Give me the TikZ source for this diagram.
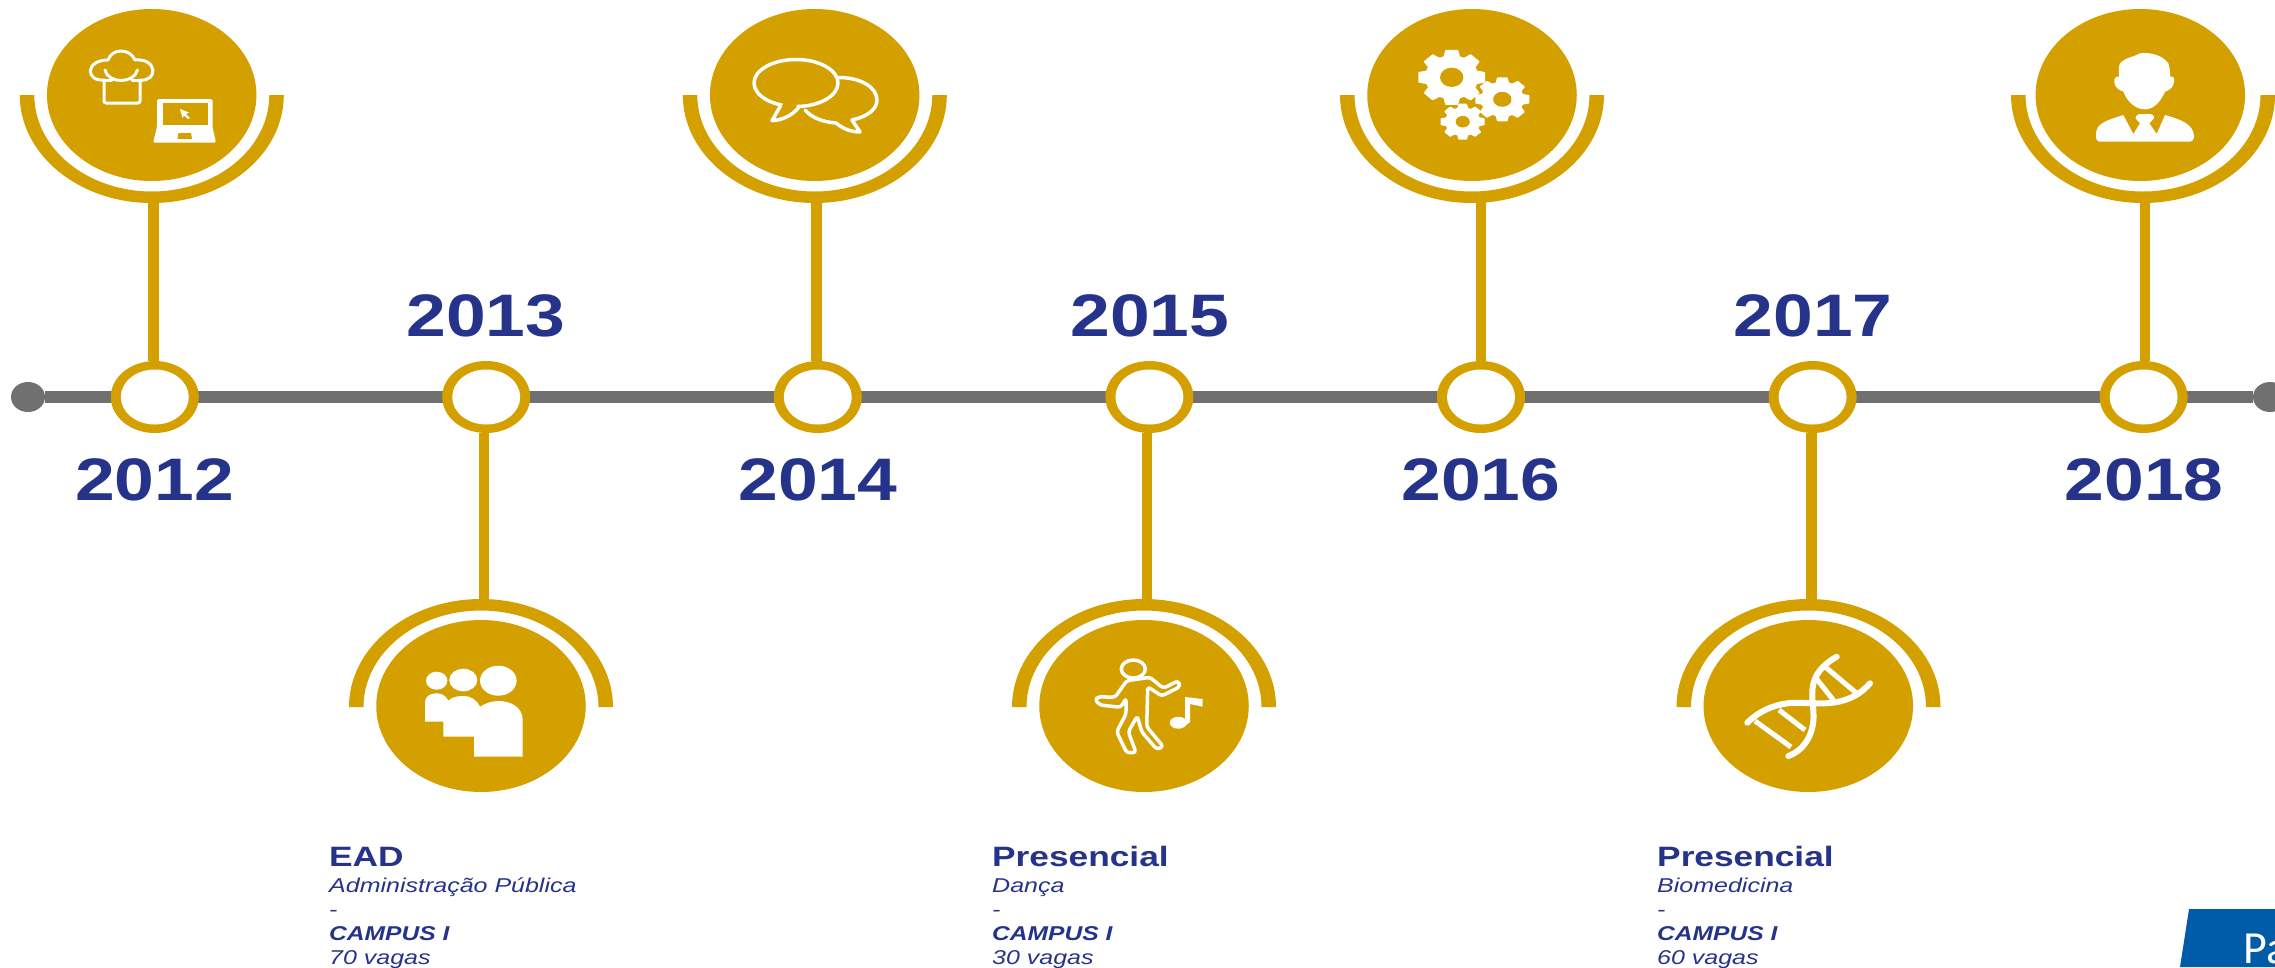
\documentclass[tikz,border=0pt]{standalone}
\usepackage{graphicx}
\usepackage{fontspec}
\setmainfont{Liberation Sans}
\newfontfamily\boxfont{Carlito}
\usetikzlibrary{shapes.geometric}
\definecolor{gold}{HTML}{D3A000}
\definecolor{navy}{HTML}{26338A}
\definecolor{axisgray}{HTML}{707070}
\definecolor{boxblue}{HTML}{005CA8}
\newcommand{\wide}[2][1.19]{\scalebox{#1}[1]{#2}}
\newcommand{\yearlabel}[3]{\node[yeartext] (#1) at (#2,#3) {\wide{2\kern0pt #1}};}
\newcommand{\infoblock}[5]{%
  \node[infoline,font=\bfseries\fontsize{28}{30}\selectfont] (#1a) at (#2,866) {\wide[1.26]{#3}};
  \node[infoline,font=\itshape\fontsize{20}{22}\selectfont] (#1b) at (#2,892) {\wide[1.25]{#4}};
  \node[infoline,font=\itshape\fontsize{20}{22}\selectfont] (#1c) at (#2,916) {\wide[1.25]{-}};
  \node[infoline,font=\bfseries\itshape\fontsize{20}{22}\selectfont] (#1d) at (#2,940) {\wide[1.23]{CAMPUS I}};
  \node[infoline,font=\itshape\fontsize{20}{22}\selectfont] (#1e) at (#2,964) {\wide[1.25]{#5}};
}
% semi-ellipse "cup": centre x, flat y, outer ry, end angle
\newcommand{\cupshape}[4]{%
  \fill[gold] (#1-132,#2) arc[start angle=180,end angle=#4,x radius=132,y radius=#3]
     -- (#1+117.5,#2) arc[start angle=#4,end angle=180,x radius=117.5,y radius=#3-11.5] -- cycle;
}
\newcommand{\gearicon}[5]{%
  \begin{scope}[shift={(#1,#2)},xscale=#3,yscale=#4]
    \fill[white] (0,0) ellipse[x radius=.8,y radius=.8];
    \foreach \a in {0,45,...,315}
      \fill[white,rotate=\a,rounded corners=.5pt] (.7,-.26)--(1,-.19)--(1,.19)--(.7,.26)--cycle;
    \fill[gold] (0,0) ellipse[x radius=#5,y radius=#5];
  \end{scope}
}
\tikzset{
  x=1pt,y=-1pt,
  iconbody/.style={ellipse,fill=gold,draw=none,inner sep=0pt,minimum width=209.5pt,minimum height=172pt},
  ringouter/.style={ellipse,fill=gold,draw=none,inner sep=0pt,minimum width=88pt,minimum height=72pt},
  ringinner/.style={ellipse,fill=white,draw=none,inner sep=0pt,minimum width=68pt,minimum height=55pt},
  enddot/.style={ellipse,fill=axisgray,draw=none,inner sep=0pt,minimum width=34pt,minimum height=30pt},
  axisline/.style={draw=axisgray,line width=12pt},
  stem/.style={draw=gold,line width=10.5pt},
  yeartext/.style={anchor=base,text=navy,inner sep=0pt,font=\bfseries\fontsize{60}{60}\selectfont},
  infoline/.style={anchor=base west,text=navy,inner sep=0pt},
  iconline/.style={draw=white,line width=3pt,line join=round,line cap=round},
  iconfill/.style={fill=white,draw=none},
}
\begin{document}
\begin{tikzpicture}
\useasboundingbox (0,0) rectangle (2275,967);
\clip (0,0) rectangle (2275,967);
\fill[white] (0,0) rectangle (2275,967);

% axis
\node[enddot] (dotL) at (28,397) {};
\node[enddot] (dotR) at (2270,397) {};
\draw[axisline] (dotL) -- (dotR);

% rings
\foreach \n/\x in {1/154.8,2/486.2,3/817.8,4/1149.4,5/1481,6/1812.6,7/2143.6}{
  \node[ringouter] (r\n) at (\x,397) {};
  \node[ringinner] (w\n) at (\x,397) {};
}

% cups and icon discs
\cupshape{151.8}{95}{108}{0}
\cupshape{814.8}{95}{108}{0}
\cupshape{1472}{95}{108}{0}
\cupshape{2143}{95}{108}{0}
\cupshape{481}{707}{108}{360}
\cupshape{1144}{707}{108}{360}
\cupshape{1808.5}{707}{108}{360}
\node[iconbody] (i1) at (151.7,95) {};
\node[iconbody] (i3) at (814.7,95) {};
\node[iconbody] (i5) at (1472,95) {};
\node[iconbody] (i7) at (2140.3,95) {};
\node[iconbody] (i2) at (481,706) {};
\node[iconbody] (i4) at (1144,706) {};
\node[iconbody] (i6) at (1808.3,706) {};

% stems
\coordinate (c1) at (153.5,202);
\coordinate (c3) at (816.7,202);
\coordinate (c5) at (1481,202);
\coordinate (c7) at (2145,202);
\coordinate (c2) at (484,600);
\coordinate (c4) at (1147,600);
\coordinate (c6) at (1811.7,600);
\foreach \n in {1,3,5,7} \draw[stem] (c\n) -- (c\n |- r\n.north);
\foreach \n in {2,4,6} \draw[stem] (c\n) -- (c\n |- r\n.south);

% years
\yearlabel{012}{154.5}{500}
\yearlabel{013}{486}{336}
\yearlabel{014}{818}{500}
\yearlabel{015}{1150}{336}
\yearlabel{016}{1481}{500}
\yearlabel{017}{1813}{336}
\yearlabel{018}{2144}{500}

% info blocks
\infoblock{e}{329}{EAD}{Administração Pública}{70 vagas}
\infoblock{d}{992}{Presencial}{Dança}{30 vagas}
\infoblock{b}{1657}{Presencial}{Biomedicina}{60 vagas}

% blue tab
\fill[boxblue] (2189,909) -- (2275,909) -- (2275,967) -- (2180,967) -- cycle;
\node[anchor=base west,text=white,inner sep=0pt,font=\boxfont\fontsize{46}{46}\selectfont] (pa) at (2243,963) {Pa};

% ---- icon: chef hat and laptop
\draw[iconline] (105,80) .. controls (85,82) and (85,60) .. (108,60)
   .. controls (112,48) and (130,48) .. (135,60)
   .. controls (158,58) and (158,82) .. (140,80);
\draw[iconline] (105,70) .. controls (108,84) and (134,84) .. (137.5,70);
\draw[iconline,rounded corners=2pt] (104,80) -- (104,103) -- (140,103) -- (140,80);
\draw[iconline] (104,80) -- (112,80) (132,80) -- (140,80);
\fill[white,rounded corners=1.5pt] (157,127)--(157,99)--(212.5,99)--(212.5,127)--(216,142.7)--(153,142.7)--cycle;
\fill[gold] (162.5,103) rectangle (208,125);
\fill[gold] (178.5,133)--(191,133)--(192,139)--(177.5,139)--cycle;
\fill[white] (180,109)--(189,112.5)--(186,114)--(190,118)--(188,119)--(184,115.5)--(182.5,118)--cycle;

% ---- icon: speech bubbles
\draw[iconline,line width=3.5pt] (837,77.5) .. controls (860,77) and (877,87) .. (877,100)
   .. controls (877,110) and (866,117) .. (852,120) -- (860,132)
   .. controls (850,132) and (842,128) .. (836,123)
   .. controls (823,122) and (812,118) .. (805,110);
\draw[iconline,line width=3.5pt] (796,83) ellipse[x radius=42,y radius=23.5];
\fill[gold,draw=white,line width=3.5pt,line join=round] (781,105) -- (772,120.7)
   .. controls (782,120) and (792,116) .. (799,107);
\fill[gold] (783,103) -- (797,103.5) -- (796,108) -- (782,110) -- cycle;

% ---- icon: gears
\gearicon{1451.7}{77.3}{33.3}{27.5}{.35}
\gearicon{1502.3}{99.3}{27}{22}{.34}
\gearicon{1462.7}{121.7}{22}{18}{.32}

% ---- icon: person
\fill[white] (2119.3,76.7) .. controls (2118,68) and (2119,63) .. (2121.7,61.7)
  .. controls (2127,57) and (2134,57) .. (2140,53.3)
  .. controls (2147,52) and (2162,54) .. (2168.3,63.3)
  .. controls (2170,68) and (2170,72) .. (2170,76.7)
  .. controls (2173,76) and (2175,78) .. (2174,81)
  .. controls (2174,87) and (2170,90) .. (2165,91.7)
  .. controls (2160,103) and (2153,109.3) .. (2145,109.3)
  .. controls (2136,109.3) and (2128,103) .. (2123.3,91.7)
  .. controls (2118,90) and (2114,86) .. (2114.3,81.7)
  .. controls (2114,78) and (2116,76) .. (2119.3,76.7) -- cycle;
\fill[white] (2096,133) .. controls (2097,124) and (2104,121) .. (2123.3,115)
  -- (2133.3,134) -- (2140,123.3) -- (2135.5,118.3) .. controls (2136,115) and (2138,114) .. (2140,114)
  -- (2150,114) .. controls (2152,114) and (2154,115) .. (2154,118.3)
  -- (2149.3,123.3) -- (2156.7,134) -- (2165,115)
  .. controls (2182,120) and (2193,124) .. (2194,136)
  .. controls (2194,140) and (2192,141.7) .. (2190,141.7) -- (2100,141.7)
  .. controls (2097,141.7) and (2095.5,139) .. (2096,133) -- cycle;

% ---- icon: people
\fill[white] (436.7,680.7) ellipse[x radius=10.7,y radius=9];
\fill[white] (463.3,680) ellipse[x radius=14,y radius=11.3];
\fill[white] (498.3,680.7) ellipse[x radius=18.3,y radius=15];
\fill[white] (425,721.7) -- (425,703.3) .. controls (425,696) and (430,693.3) .. (436.7,693.3)
  .. controls (442,693.3) and (446,696) .. (448.3,700.7)
  .. controls (452,697) and (457,696) .. (463.3,696)
  .. controls (471,696) and (477,700) .. (480,706.7)
  .. controls (486,703) and (492,701) .. (498.3,701)
  .. controls (512,701) and (522.7,708) .. (522.7,720)
  -- (522.7,756.7) -- (474,756.7) -- (474,736.7) -- (443.3,736.7) -- (443.3,721.7) -- cycle;

% ---- icon: dancer
\draw[iconline,line width=3.5pt] (1133.3,669) ellipse[x radius=12,y radius=9];
\draw[iconline,line width=3.5pt,rounded corners=3pt] (1126.7,680.7) -- (1115,697.3) -- (1098.3,696.7) -- (1095,700) -- (1100,705)
  -- (1120.7,707.3) -- (1126,698.3) -- (1126,714) -- (1116.7,731.7) -- (1126.7,752.7) -- (1136,752.7)
  -- (1128.3,731.7) -- (1137.3,716) -- (1141.7,731.7) -- (1156.7,749.3) -- (1163.3,746.7) -- (1146.7,726.7)
  -- (1147.7,686.7) -- (1161.7,696) -- (1180,686.7) -- (1178.3,680.7) -- (1163.3,688.3) -- (1150,677.3) -- cycle;
\fill[white] (1178.3,722.7) ellipse[x radius=8.5,y radius=6];
\fill[white] (1185,697) -- (1202.7,699) -- (1202.7,706.7) -- (1190,704) -- (1190,722) -- (1185,726) -- cycle;

% ---- icon: DNA
\draw[iconline,line width=6pt] (1747.3,722.7) .. controls (1758,712) and (1772,705) .. (1790,703)
  .. controls (1810,701) and (1845,712) .. (1870,683.3);
\draw[iconline,line width=6pt] (1788.3,756) .. controls (1805,750) and (1814,733) .. (1813.5,715)
  .. controls (1813,695) and (1805,675) .. (1836.7,656.7);
\draw[draw=white,line width=5pt] (1755,721) -- (1791,747);
\draw[draw=white,line width=5pt] (1779,710) -- (1805,730);
\draw[draw=white,line width=5pt] (1825.7,667.3) -- (1856.7,693.3);
\draw[draw=white,line width=5pt] (1816.7,679) -- (1833.3,700);
\end{tikzpicture}
\end{document}
